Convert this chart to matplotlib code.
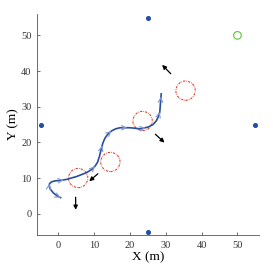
import matplotlib
matplotlib.use('Agg')
import matplotlib.pyplot as plt
from matplotlib.patches import Circle
import numpy as np

plt.rcParams['font.family'] = ['Liberation Serif', 'DejaVu Serif']

# anchor / beacon points
beacon_x = [25, -5, 55, 25]
beacon_y = [55, 25, 25, -5]
goal = (50, 50)

# trajectory
path_x = [0.6, -0.4, -1.4, -2.3, -2.6, -2.5, -2.0, -1.0, 0.3, 2.2, 5.0, 7.8, 9.3,
          10.2, 10.9, 11.4, 11.9, 12.4, 13.0, 13.8, 14.8, 16.0, 17.2, 20.0, 22.8,
          25.1, 26.4, 27.3, 27.9, 28.3, 28.5, 28.7]
path_y = [4.5, 5.0, 5.8, 6.9, 7.8, 8.4, 8.9, 9.2, 9.3, 9.6, 10.4, 11.5, 12.4,
          13.3, 14.4, 15.9, 17.9, 19.8, 21.2, 22.3, 23.2, 23.8, 24.1, 24.1, 23.8,
          24.3, 25.0, 26.0, 27.2, 28.5, 31.1, 33.6]

# chevrons along the path: (index of tail, index of head)
chevron_idx = [(1, 0), (4, 5), (8, 9), (12, 13), (16, 17), (19, 20), (22, 23),
               (24, 25), (28, 29), (30, 31)]

# obstacles
obs_x = [5.5, 14.5, 23.5, 35.5]
obs_y = [10.0, 14.5, 26.0, 34.5]
obs_r = 2.7

# obstacle motion arrows (start, end)
arr_start = [(4.8, 5.4), (11.6, 11.7), (26.5, 22.8), (31.9, 38.7)]
arr_end = [(4.8, 0.3), (8.0, 8.6), (30.2, 19.4), (28.4, 42.3)]

fig = plt.figure(figsize=(2.73, 2.74), dpi=100)
ax = fig.add_axes([0.1355, 0.142, 0.813, 0.807])

ax.scatter(beacon_x, beacon_y, s=7, color='#1f4fa8', zorder=3)
ax.scatter([goal[0]], [goal[1]], s=30, facecolors='none', edgecolors='#5cc43a', linewidths=0.8)

for cx, cy in zip(obs_x, obs_y):
    ax.add_patch(Circle((cx, cy), obs_r, fill=False, edgecolor='#e0402a',
                        linestyle=(0, (2, 1, 0.6, 1)), linewidth=0.8))

ax.plot(path_x, path_y, color='#2a4d9c', linewidth=1.2, zorder=4)
for i, j in chevron_idx:
    ax.annotate('', xy=(path_x[j], path_y[j]), xytext=(path_x[i], path_y[i]),
                arrowprops=dict(arrowstyle='->', color='#7d98d8', lw=0.8,
                                mutation_scale=8), zorder=5)

for (x0, y0), (x1, y1) in zip(arr_start, arr_end):
    ax.annotate('', xy=(x1, y1), xytext=(x0, y0),
                arrowprops=dict(arrowstyle='-|>', color='black', lw=0.9,
                                mutation_scale=6))

ax.set_xlim(-6, 56)
ax.set_ylim(-6, 56)
ax.set_xticks([0, 10, 20, 30, 40, 50])
ax.set_yticks([0, 10, 20, 30, 40, 50])
ax.spines['top'].set_visible(False)
ax.spines['right'].set_visible(False)
for s in ['left', 'bottom']:
    ax.spines[s].set_color('#555555')
    ax.spines[s].set_linewidth(0.6)
ax.tick_params(direction='in', length=2, width=0.5, labelsize=7.5, colors='#333333', pad=4)
ax.set_xlabel('X (m)', fontsize=9.5, labelpad=1)
ax.set_ylabel('Y (m)', fontsize=9.5, labelpad=1)

fig.savefig('out.png', dpi=100)
